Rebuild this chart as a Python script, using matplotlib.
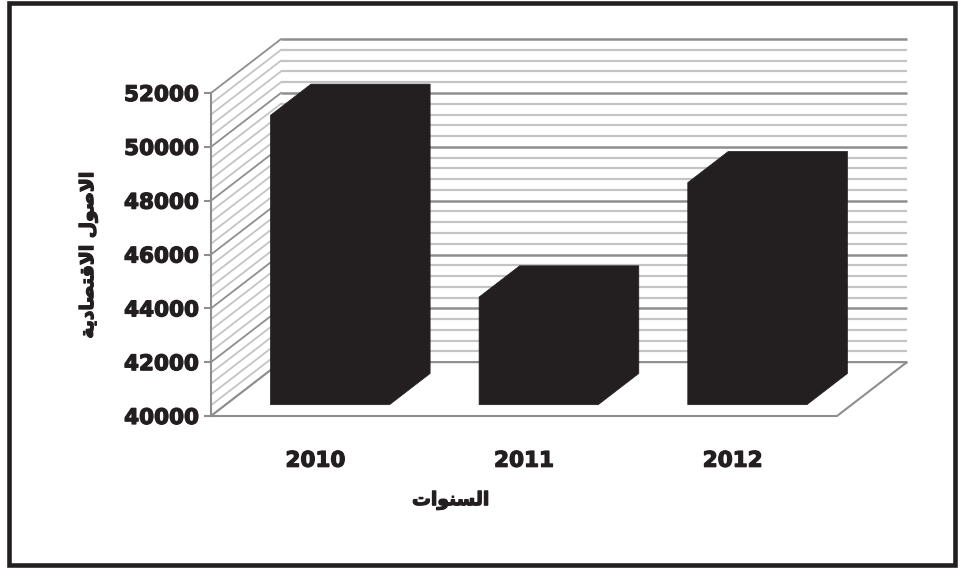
import matplotlib
matplotlib.use("Agg")
import matplotlib.pyplot as plt
import matplotlib.patheffects as pe
from matplotlib.patches import Polygon, Rectangle

# economic assets by year
years = ["2010", "2011", "2012"]
assets = [50750, 44000, 48250]
y_ticks = [40000, 42000, 44000, 46000, 48000, 50000, 52000]
y_minor_step = 400

x_label = "\uFE95\uFE8D\uFEEE\uFEE8\uFEB4\uFEDF\uFE8D"  # السنوات
y_label = ("\uFE94\uFEF3\uFEA9\uFE8E\uFEBC\uFE98\uFED7\uFEFB\uFE8D "
           "\uFEDD\uFEEE\uFEBB\uFEFB\uFE8D")  # الاصول الاقتصادية

ink = "#231f20"
major_grey = "#8e8e8e"
minor_grey = "#c4c4c4"
heavy = [pe.withStroke(linewidth=0.9, foreground=ink)]

# oblique depth offset, in data units, for the 3d look
DX = 0.335
DY = 2000
bar_w = 0.571
d_front, d_back = 0.21, 0.79


def proj(x, v, d):
    return (x + DX * d, v + DY * d)


fig = plt.figure(figsize=(9.62, 5.76), dpi=100)
ax = fig.add_axes([211 / 962, 1 - 416 / 576, 626 / 962, 323 / 576])
ax.set_xlim(-0.5, 2.5)
ymin, ymax = y_ticks[0], y_ticks[-1]
ax.set_ylim(ymin, ymax)
for s in ax.spines.values():
    s.set_visible(False)

levels = list(range(ymin, ymax + 1, y_minor_step))
xl, xr = -0.5, 2.5

# back wall and side wall gridlines
for v in levels:
    major = (v - ymin) % 2000 == 0
    col = major_grey if major else minor_grey
    lw = 1.8 if major else 1.6
    p0, p1 = proj(xl, v, 1), proj(xr, v, 1)
    ax.plot([p0[0], p1[0]], [p0[1], p1[1]], color=col, lw=lw,
            clip_on=False, zorder=1, solid_capstyle="butt")
    q0, q1 = proj(xl, v, 0), proj(xl, v, 1)
    ax.plot([q0[0], q1[0]], [q0[1], q1[1]], color=col, lw=1.3,
            clip_on=False, zorder=1)

# floor
floor = [proj(xl, ymin, 0), proj(xr, ymin, 0), proj(xr, ymin, 1), proj(xl, ymin, 1)]
ax.add_patch(Polygon(floor, closed=True, facecolor="white", edgecolor=major_grey,
                     lw=1.5, clip_on=False, zorder=2))

# bars
for i, val in enumerate(assets):
    x0, x1 = i - bar_w / 2, i + bar_w / 2
    pts = [proj(x0, ymin, d_front), proj(x0, val, d_front), proj(x0, val, d_back),
           proj(x1, val, d_back), proj(x1, ymin, d_back), proj(x1, ymin, d_front)]
    ax.add_patch(Polygon(pts, closed=True, facecolor=ink, edgecolor=ink, lw=0.5,
                         clip_on=False, zorder=3))

# front value axis line
ax.plot([xl, xl], [ymin, ymax], color=major_grey, lw=1.5, clip_on=False, zorder=4)

ax.set_yticks(y_ticks)
ax.set_yticklabels([str(t) for t in y_ticks], fontsize=15.5, fontweight="bold",
                   color=ink, path_effects=heavy)
ax.tick_params(axis="y", length=5, width=1.5, color=major_grey, pad=4)
ax.set_xticks(range(len(years)))
ax.set_xticklabels(years, fontsize=15.5, fontweight="bold", color=ink,
                   path_effects=heavy)
ax.tick_params(axis="x", length=0, pad=25)

fig.text(451 / 962, 1 - 500 / 576, x_label, fontsize=13.5, fontweight="bold",
         ha="center", va="center", family="DejaVu Sans", color=ink,
         path_effects=heavy)
fig.text(88 / 962, 1 - 255 / 576, y_label, fontsize=13.5, fontweight="bold",
         rotation=90, ha="center", va="center", family="DejaVu Sans", color=ink,
         path_effects=heavy)

# outer frame
fig.patches.append(Rectangle((9 / 962, 1 - 565 / 576), 946 / 962, 562 / 576,
                             transform=fig.transFigure, fill=False,
                             edgecolor=ink, lw=3.3))

fig.savefig("out.png", dpi=100)
